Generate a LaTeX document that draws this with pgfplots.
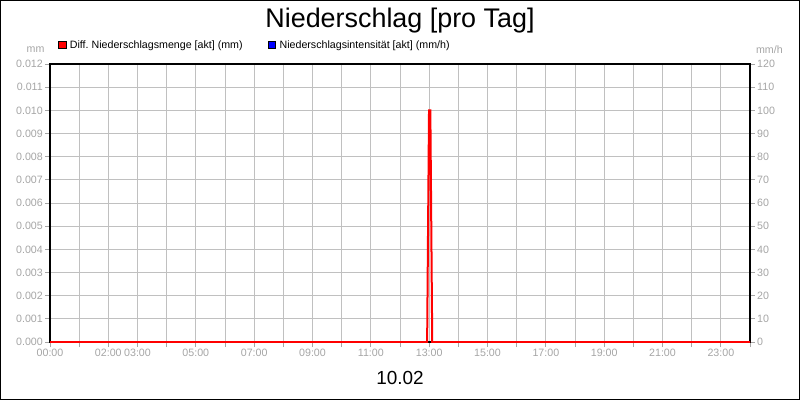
\documentclass[border=0pt]{standalone}
\usepackage{pgfplots}
\pgfplotsset{compat=1.18}
\usepackage{fontspec}
\setmainfont{Liberation Sans}
\definecolor{labgray}{RGB}{165,165,165}
\definecolor{gridgray}{RGB}{192,192,192}
\definecolor{spikered}{RGB}{255,0,0}
\definecolor{intblue}{RGB}{0,0,255}
\newcommand{\smallfont}{\fontsize{10.7}{12}\selectfont}
\begin{document}
\begin{tikzpicture}[x=1bp,y=1bp]
\pgfplotsset{
  common/.style={
    at={(50bp,58bp)}, anchor=south west,
    scale only axis, width=700bp, height=278bp,
    xmin=0, xmax=24,
    tick align=outside, major tick length=5bp,
    tick style={color=labgray, line width=0.8bp},
    tick label style={font=\smallfont, color=labgray, inner sep=2bp},
    /pgf/number format/assume math mode=true,
    axis line style={black, line width=1.2bp},
  }
}
% right axis: intensity (mm/h)
\begin{axis}[common,
  ymin=0, ymax=120,
  axis y line*=right, axis x line=none,
  ytick={0,10,...,120},
]
\addplot[intblue, line width=1.5bp] coordinates {(0,0) (13,0) (24,0)};
\end{axis}
% left axis: amount (mm)
\begin{axis}[common, name=main,
  ymin=0, ymax=0.012,
  ytick={0,0.001,0.002,0.003,0.004,0.005,0.006,0.007,0.008,0.009,0.010,0.011,0.012},
  scaled y ticks=false,
  yticklabel style={/pgf/number format/.cd,fixed,fixed zerofill,precision=3},
  ytick pos=left, xtick pos=bottom,
  xtick={0,1,...,24},
  xticklabels={00:00,{},02:00,03:00,{},05:00,{},07:00,{},09:00,{},11:00,{},13:00,{},15:00,{},17:00,{},19:00,{},21:00,{},23:00,{}},
  grid=major, major grid style={color=gridgray, line width=1bp},
  legend columns=2,
  legend cell align=left,
  legend style={draw=none, fill=none, inner sep=0pt, outer sep=0pt,
    at={(0,1)}, anchor=west, xshift=8bp, yshift=19bp,
    font=\fontsize{10.7}{12}\selectfont,
    nodes={inner sep=0pt},
    /tikz/every odd column/.append style={column sep=4bp},
    /tikz/every even column/.append style={column sep=25bp}},
  legend image code/.code={\draw[#1, draw=black, line width=0.4bp] (0bp,-3.5bp) rectangle (7.5bp,3.5bp);},
]
\addplot[spikered, line width=2bp, forget plot] coordinates {
  (0,0) (12.93,0) (12.995,0.010) (13.04,0.010) (13.105,0) (24,0)};
\addlegendimage{fill=spikered}
\addlegendentry{Diff.\ Niederschlagsmenge [akt] (mm)}
\addlegendimage{fill=intblue}
\addlegendentry{Niederschlagsintensität [akt] (mm/h)}
\end{axis}
\node[anchor=east, color=labgray, font=\smallfont] at ([xshift=-2bp,yshift=14bp]main.north west) {mm};
\node[anchor=west, color=labgray, font=\smallfont] at ([xshift=2.5bp,yshift=14bp]main.north east) {mm/h};
\node[anchor=base] at (400,373) {\fontsize{27}{30}\selectfont Niederschlag [pro Tag]};
\node[anchor=base] at (400,16) {\fontsize{19}{22}\selectfont 10.02};
\draw[line width=1.5bp] (0.75,0.75) rectangle (799.25,399.25);
\end{tikzpicture}
\end{document}
